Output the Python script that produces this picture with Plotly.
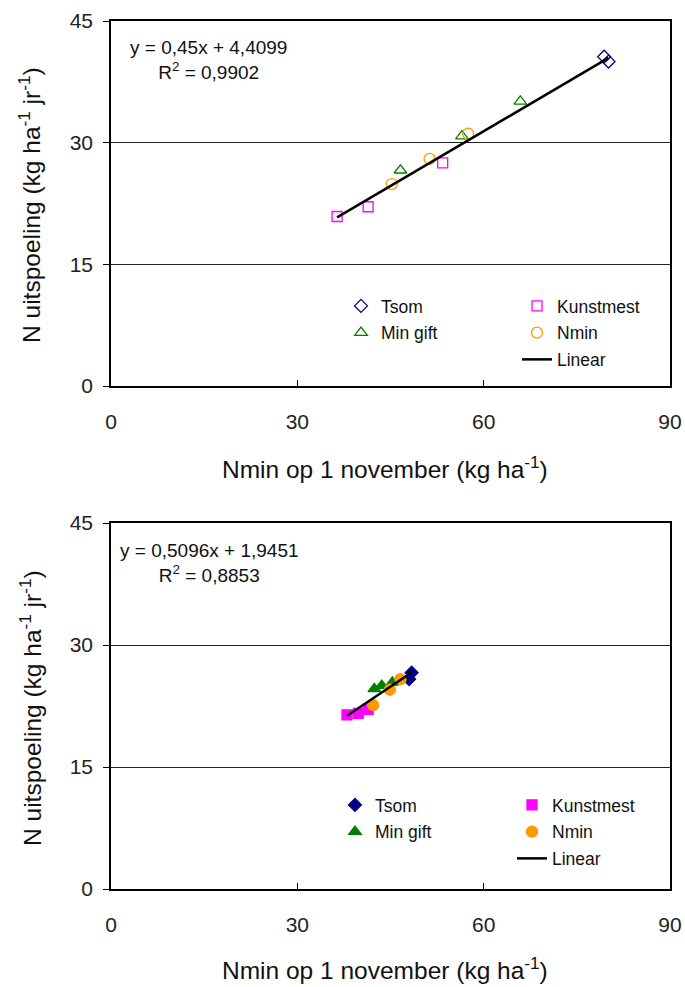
import plotly.graph_objects as go
import numpy as np

# ---- Data (top panel: open markers) ----
top_tsom_x = [79.4, 80.1]
top_tsom_y = [40.6, 40.0]
top_kunst_x = [36.4, 41.4, 53.4]
top_kunst_y = [20.9, 22.1, 27.5]
top_min_x = [46.6, 56.5, 65.9]
top_min_y = [26.6, 30.8, 35.1]
top_nmin_x = [45.2, 51.3, 57.5]
top_nmin_y = [24.9, 28.0, 31.1]
top_slope, top_intercept = 0.45, 4.4099

# ---- Data (bottom panel: filled markers) ----
bot_tsom_x = [48.4, 48.0]
bot_tsom_y = [26.6, 25.8]
bot_kunst_x = [38.0, 39.8, 41.4]
bot_kunst_y = [21.4, 21.6, 22.1]
bot_min_x = [42.4, 43.6, 45.3]
bot_min_y = [24.6, 25.0, 25.4]
bot_nmin_x = [42.2, 44.9, 46.6]
bot_nmin_y = [22.6, 24.5, 25.8]
bot_slope, bot_intercept = 0.5096, 1.9451

x_ticks = [0, 30, 60, 90]
y_ticks = [0, 15, 30, 45]

FONT = "Liberation Sans, Arial, sans-serif"
NAVY, MAG, GREEN, ORANGE = "#000080", "#FF00FF", "#008000", "#FF9900"

fig = go.Figure()

def add_panel(xa, ya, tsx, tsy, kx, ky, mx, my, nx, ny, slope, icpt, filled, leg1, leg2):
    sfx = "" if filled else "-open"
    allx = tsx + kx + mx + nx
    lx = np.array([min(allx), max(allx)])
    ly = slope * lx + icpt
    fig.add_trace(go.Scatter(x=tsx, y=tsy, mode="markers", name="Tsom", xaxis=xa, yaxis=ya,
                             marker=dict(symbol="diamond" + sfx, size=10, color=NAVY, line=dict(width=1.3, color=NAVY)),
                             legend=leg1, legendgroup=leg1 + "a"))
    fig.add_trace(go.Scatter(x=mx, y=my, mode="markers", name="Min gift", xaxis=xa, yaxis=ya,
                             marker=dict(symbol="triangle-up" + sfx, size=11, color=GREEN, line=dict(width=1.3, color=GREEN)),
                             legend=leg1, legendgroup=leg1 + "b"))
    fig.add_trace(go.Scatter(x=kx, y=ky, mode="markers", name="Kunstmest", xaxis=xa, yaxis=ya,
                             marker=dict(symbol="square" + sfx, size=10, color=MAG, line=dict(width=1.3, color=MAG)),
                             legend=leg2, legendgroup=leg2 + "a"))
    fig.add_trace(go.Scatter(x=nx, y=ny, mode="markers", name="Nmin", xaxis=xa, yaxis=ya,
                             marker=dict(symbol="circle" + sfx, size=11, color=ORANGE, line=dict(width=1.3, color=ORANGE)),
                             legend=leg2, legendgroup=leg2 + "b"))
    fig.add_trace(go.Scatter(x=lx, y=ly, mode="lines", name="Linear", xaxis=xa, yaxis=ya,
                             line=dict(color="black", width=2.5),
                             legend=leg2, legendgroup=leg2 + "c"))

add_panel("x", "y", top_tsom_x, top_tsom_y, top_kunst_x, top_kunst_y, top_min_x, top_min_y,
          top_nmin_x, top_nmin_y, top_slope, top_intercept, False, "legend", "legend2")
add_panel("x2", "y2", bot_tsom_x, bot_tsom_y, bot_kunst_x, bot_kunst_y, bot_min_x, bot_min_y,
          bot_nmin_x, bot_nmin_y, bot_slope, bot_intercept, True, "legend3", "legend4")

W, H = 685, 987
def fx(px): return px / W
def fy(py): return 1 - py / H

xdom = [fx(111), fx(670)]
top_dom = [fy(386), fy(21)]
bot_dom = [fy(889), fy(523)]

xaxis_common = dict(range=[0, 90], tickvals=x_ticks, ticks="inside", ticklen=6, tickcolor="black",
                    showline=True, linecolor="black", linewidth=1.5, mirror=True, showgrid=False,
                    zeroline=False, tickfont=dict(family=FONT, size=21, color="#222"),
                    ticklabelstandoff=16, domain=xdom, fixedrange=True, automargin=False)
yaxis_common = dict(range=[0, 45], tickvals=y_ticks, ticks="outside", ticklen=6, tickcolor="black",
                    showline=True, linecolor="black", linewidth=1.5, mirror=True, showgrid=True,
                    gridcolor="#222", gridwidth=1, zeroline=False, automargin=False,
                    tickfont=dict(family=FONT, size=21, color="#222"), ticklabelstandoff=6, fixedrange=True)

legend_common = dict(font=dict(family=FONT, size=17.5, color="#111"), bgcolor="rgba(0,0,0,0)",
                     borderwidth=0, orientation="v", xanchor="left", yanchor="top",
                     tracegroupgap=1, itemwidth=30)

fig.update_layout(
    width=W, height=H, margin=dict(l=0, r=0, t=0, b=0, autoexpand=False),
    paper_bgcolor="white", plot_bgcolor="white",
    font=dict(family=FONT, color="#111"),
    xaxis=dict(**xaxis_common, anchor="y"),
    yaxis=dict(**yaxis_common, domain=top_dom, anchor="x"),
    xaxis2=dict(**xaxis_common, anchor="y2"),
    yaxis2=dict(**yaxis_common, domain=bot_dom, anchor="x2"),
    legend=dict(**legend_common, x=fx(341), y=fy(288)),
    legend2=dict(**legend_common, x=fx(517), y=fy(288)),
    legend3=dict(**legend_common, x=fx(335), y=fy(787)),
    legend4=dict(**legend_common, x=fx(512), y=fy(787)),
)

annots = [
    dict(text="y = 0,45x + 4,4099<br>R<sup>2</sup> = 0,9902", x=fx(208), y=fy(60)),
    dict(text="y = 0,5096x + 1,9451<br>R<sup>2</sup> = 0,8853", x=fx(209), y=fy(563)),
]
for a in annots:
    fig.add_annotation(xref="paper", yref="paper", xanchor="center", yanchor="middle",
                       showarrow=False, align="center",
                       font=dict(family=FONT, size=19, color="#111"), **a)

xtitle = "Nmin op 1 november (kg ha<sup>-1</sup>)"
ytitle = "N uitspoeling (kg ha<sup>-1</sup> jr<sup>-1</sup>)"
for yc in (468, 968):
    fig.add_annotation(xref="paper", yref="paper", x=fx(385), y=fy(yc), text=xtitle, showarrow=False,
                       xanchor="center", yanchor="middle", font=dict(family=FONT, size=24.5, color="#111"))
for yc in (205, 708):
    fig.add_annotation(xref="paper", yref="paper", x=fx(30), y=fy(yc), text=ytitle, showarrow=False,
                       textangle=-90, xanchor="center", yanchor="middle",
                       font=dict(family=FONT, size=24.5, color="#111"))

fig.write_html("out.html")
